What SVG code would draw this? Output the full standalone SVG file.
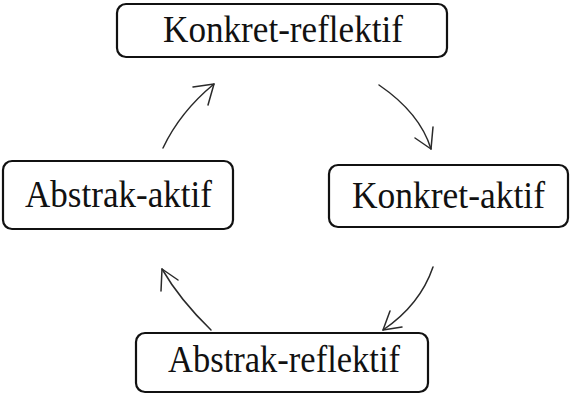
<svg xmlns="http://www.w3.org/2000/svg" width="572" height="406" viewBox="0 0 572 406">
<style>
.box{fill:#fff;stroke:#111;stroke-width:2.2}
.lbl{font-family:"Liberation Serif","Times New Roman",serif;font-size:38px;fill:#111}
.con{fill:none;stroke:#2a2a2a;stroke-width:1.5;stroke-linecap:round;stroke-linejoin:round}
</style>
<rect width="572" height="406" fill="#fff"/>
<g id="konkret-reflektif">
<rect class="box" x="117" y="4" width="330" height="53" rx="9"/>
<text class="lbl" x="163" y="42" textLength="240" lengthAdjust="spacingAndGlyphs">Konkret-reflektif</text>
</g>
<g id="abstrak-aktif">
<rect class="box" x="3" y="161" width="230" height="68" rx="9"/>
<text class="lbl" x="25" y="207" textLength="187" lengthAdjust="spacingAndGlyphs">Abstrak-aktif</text>
</g>
<g id="konkret-aktif">
<rect class="box" x="329" y="165" width="239" height="62" rx="9"/>
<text class="lbl" x="352" y="208" textLength="193" lengthAdjust="spacingAndGlyphs">Konkret-aktif</text>
</g>
<g id="abstrak-reflektif">
<rect class="box" x="136" y="333" width="292" height="59" rx="9"/>
<text class="lbl" x="168" y="372" textLength="232" lengthAdjust="spacingAndGlyphs">Abstrak-reflektif</text>
</g>
<g id="connectors">
<path class="con" d="M163,148 Q180,112 214,84"/>
<path class="con" d="M193,87 L214,84 L208,105"/>
<path class="con" d="M379,85 Q420,113 431,149"/>
<path class="con" d="M415,138 L431,149 L433,127"/>
<path class="con" d="M433,267 Q420,305 383,330"/>
<path class="con" d="M390,311 L383,330 L402,327"/>
<path class="con" d="M211,330 Q180,300 162,269"/>
<path class="con" d="M161,291 L162,269 L178,280"/>
</g>
</svg>
